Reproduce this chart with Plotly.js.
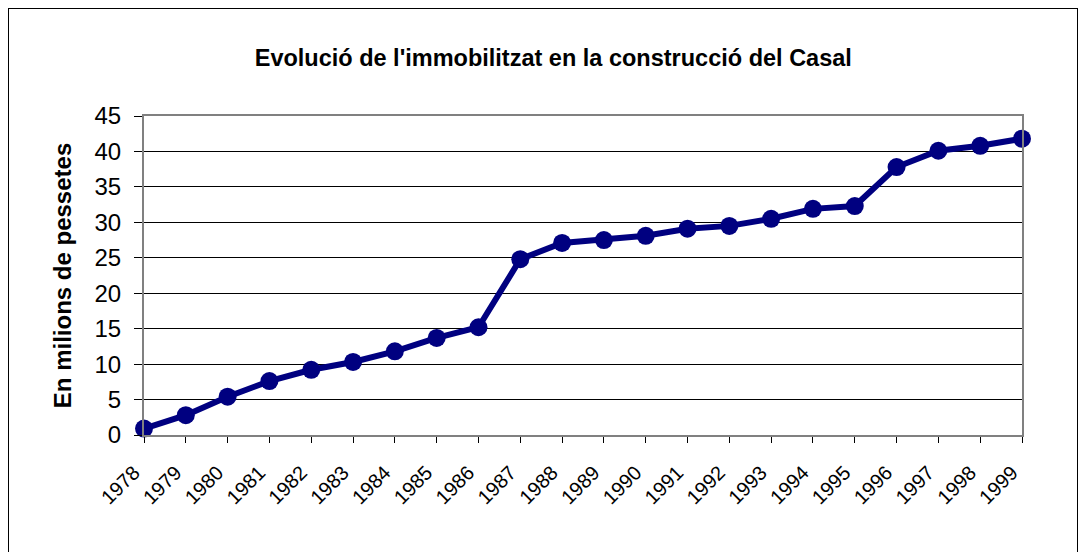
<!DOCTYPE html>
<html>
<head>
<meta charset="utf-8">
<script src="https://cdn.plot.ly/plotly-3.0.1.min.js"></script>
<style>
html,body{margin:0;padding:0;background:#fff;}
#wrap{position:relative;width:1087px;height:552px;}
#chart{width:1087px;height:552px;}
#frame{position:absolute;left:8px;top:8px;width:1068px;height:560px;border:1px solid #000;pointer-events:none;}
</style>
</head>
<body>
<div id="wrap">
<div id="chart"></div>
<div id="frame"></div>
</div>
<script>
const years = ["1978","1979","1980","1981","1982","1983","1984","1985","1986","1987","1988","1989","1990","1991","1992","1993","1994","1995","1996","1997","1998","1999"];
const values = [0.9,2.8,5.4,7.6,9.2,10.3,11.8,13.7,15.2,24.8,27.1,27.5,28.1,29.1,29.5,30.5,31.9,32.3,37.8,40.1,40.8,41.8];
const yTicks = [0,5,10,15,20,25,30,35,40,45];

const trace = {
  x: years,
  y: values,
  type: 'scatter',
  mode: 'lines+markers',
  line: {color: '#000080', width: 6},
  marker: {color: '#000080', size: 18},
  cliponaxis: false,
  hoverinfo: 'x+y'
};

const layout = {
  width: 1087,
  height: 552,
  margin: {l: 144, r: 65, t: 116, b: 117},
  paper_bgcolor: 'rgba(0,0,0,0)',
  plot_bgcolor: '#fff',
  showlegend: false,
  font: {family: 'Liberation Sans, Arial, sans-serif', color: '#000'},
  title: {
    text: "<b>Evolució de l'immobilitzat en la construcció del Casal</b>",
    font: {size: 23.5, color: '#000', family: 'Liberation Sans, Arial, sans-serif'},
    x: 0.509, xanchor: 'center', xref: 'container', y: 0.895, yanchor: 'middle'
  },
  xaxis: {
    type: 'category',
    range: [0, years.length - 1],
    tickangle: -45,
    tickfont: {size: 20, color: '#000'},
    ticks: 'outside', ticklen: 6, tickcolor: '#000', tickwidth: 1,
    ticklabelstandoff: 10,
    ticklabelshift: -10,
    showgrid: false,
    showline: true, linecolor: '#808080', linewidth: 2, mirror: true,
    zeroline: false,
    fixedrange: true
  },
  yaxis: {
    range: [0, 45],
    tickvals: yTicks,
    ticktext: yTicks.map(String),
    tickfont: {size: 24, color: '#000'},
    ticks: 'outside', ticklen: 8, tickcolor: '#000', tickwidth: 1,
    ticklabelstandoff: 8,
    showgrid: true, gridcolor: '#000', gridwidth: 1,
    showline: true, linecolor: '#808080', linewidth: 2, mirror: true,
    zeroline: false,
    title: {text: '<b>En milions de pessetes</b>', font: {size: 24, color: '#000'}, standoff: 16},
    fixedrange: true
  }
};

Plotly.newPlot('chart', [trace], layout, {displayModeBar: false});
</script>
</body>
</html>
